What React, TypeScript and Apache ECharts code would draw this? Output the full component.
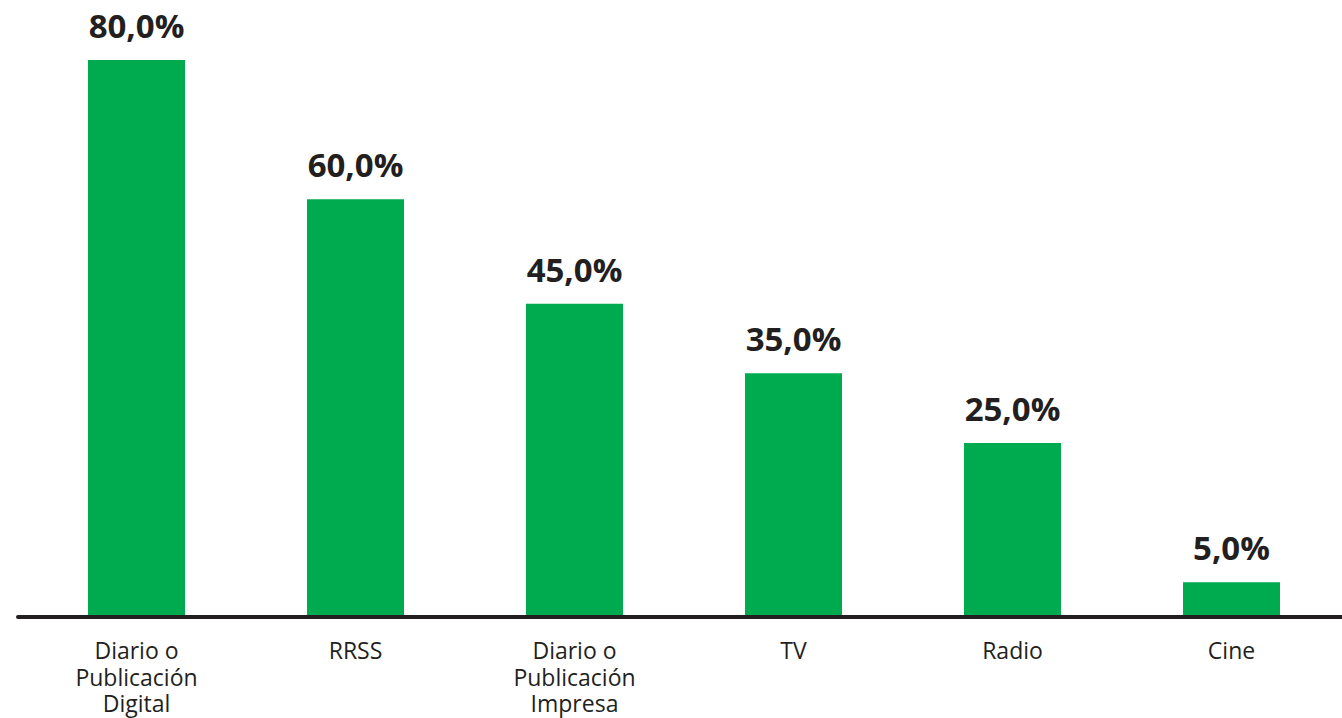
import React, { useEffect, useRef } from "react";
import * as echarts from "echarts";

const categories = [
  "Diario o\nPublicación\nDigital",
  "RRSS",
  "Diario o\nPublicación\nImpresa",
  "TV",
  "Radio",
  "Cine",
];
const values = [80, 60, 45, 35, 25, 5];

export default function App() {
  const ref = useRef<HTMLDivElement>(null);
  useEffect(() => {
    const chart = echarts.init(ref.current!, null, { renderer: "svg" });
    chart.setOption({
      animation: false,
      grid: { left: 27, right: 1, top: 60, bottom: 101 },
      xAxis: {
        type: "category",
        data: categories,
        axisLine: { show: false },
        axisTick: { show: false },
        axisLabel: {
          margin: 20,
          fontFamily: "Open Sans",
          fontSize: 23,
          lineHeight: 26.5,
          color: "#231f20",
          interval: 0,
        },
      },
      yAxis: {
        type: "value",
        min: 0,
        max: 80,
        show: false,
        splitLine: { show: false },
      },
      series: [
        {
          type: "bar",
          data: values,
          barWidth: 97,
          itemStyle: { color: "#00aa4f" },
          label: {
            show: true,
            position: "top",
            distance: 18,
            fontFamily: "Open Sans",
            fontWeight: "bold",
            fontSize: 33,
            color: "#231f20",
            formatter: (p: any) => p.value.toFixed(1).replace(".", ",") + "%",
          },
        },
      ],
      graphic: [
        {
          type: "line",
          shape: { x1: 18, y1: 617, x2: 1342, y2: 617 },
          style: { stroke: "#231f20", lineWidth: 4, lineCap: "round" },
          z: 100,
        },
      ],
    });
    return () => chart.dispose();
  }, []);
  return <div ref={ref} style={{ width: 1342, height: 718, position: "absolute", left: 0, top: 0 }} />;
}
